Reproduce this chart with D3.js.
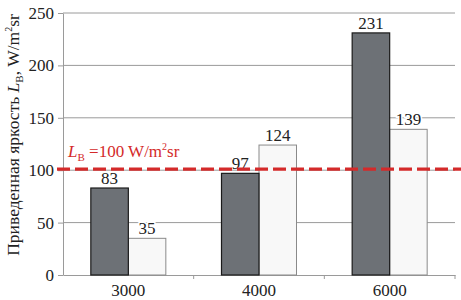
<!DOCTYPE html>
<html>
<head>
<meta charset="utf-8">
<script src="https://cdn.jsdelivr.net/npm/d3@7"></script>
<style>
  body { margin: 0; background: #fff; }
</style>
</head>
<body>
<div id="main"></div>
<script>
const categories = ["3000", "4000", "6000"];
const darkValues = [83, 97, 231];
const lightValues = [35, 124, 139];
const yTicks = [0, 50, 100, 150, 200, 250];
const thresholdValue = 100;

const width = 461, height = 300;
const padding = {top: 13, right: 6, bottom: 25, left: 63};
const serif = '"Liberation Serif", "Times New Roman", "DejaVu Serif", serif';

const svg = d3.select("#main").append("svg")
    .attr("width", width).attr("height", height)
    .attr("font-family", serif);

const x = d3.scaleBand().domain(categories)
    .range([padding.left, width - padding.right]);
const y = d3.scaleLinear().domain([0, 250])
    .range([height - padding.bottom, padding.top]);
const barW = 37.5;

// gridlines
svg.append("g").selectAll("line").data(yTicks.slice(1)).enter().append("line")
    .attr("x1", padding.left).attr("x2", width - padding.right)
    .attr("y1", d => y(d)).attr("y2", d => y(d))
    .attr("stroke", "#9a9a9a").attr("stroke-width", 1);

// y axis
const yAxis = d3.axisLeft(y).tickValues(yTicks).tickSize(5).tickSizeOuter(0);
const gy = svg.append("g")
    .attr("transform", "translate(" + padding.left + ",0)")
    .call(yAxis)
    .attr("font-family", serif);
gy.select(".domain").attr("stroke", "#9a9a9a");
gy.selectAll(".tick line").attr("stroke", "#9a9a9a");
gy.selectAll(".tick text").attr("font-size", 17).attr("fill", "#222").attr("x", -9);

// x axis
const xAxis = d3.axisBottom(x).tickSize(0).tickSizeOuter(0);
const gx = svg.append("g")
    .attr("transform", "translate(0," + (height - padding.bottom) + ")")
    .call(xAxis)
    .attr("font-family", serif);
gx.select(".domain").attr("stroke", "#9a9a9a");
gx.selectAll(".tick text").attr("font-size", 17).attr("fill", "#222").attr("dy", "1.05em");
// separators between categories
gx.append("g").selectAll("line").data(categories.slice(1)).enter().append("line")
    .attr("x1", d => x(d)).attr("x2", d => x(d))
    .attr("y1", 0).attr("y2", 4)
    .attr("stroke", "#9a9a9a");
gx.append("line").attr("x1", width - padding.right).attr("x2", width - padding.right)
    .attr("y1", 0).attr("y2", 4).attr("stroke", "#9a9a9a");

// bars
const bars = svg.append("g");
bars.selectAll("rect.light").data(lightValues).enter().append("rect")
    .attr("class", "light")
    .attr("x", (d, i) => x(categories[i]) + x.bandwidth() / 2)
    .attr("y", d => y(d))
    .attr("width", barW)
    .attr("height", d => y(0) - y(d))
    .attr("fill", "#f8f8f8").attr("stroke", "#8a8a8a").attr("stroke-width", 1);
bars.selectAll("rect.dark").data(darkValues).enter().append("rect")
    .attr("class", "dark")
    .attr("x", (d, i) => x(categories[i]) + x.bandwidth() / 2 - barW)
    .attr("y", d => y(d))
    .attr("width", barW)
    .attr("height", d => y(0) - y(d))
    .attr("fill", "#6d7176").attr("stroke", "#1a1a1a").attr("stroke-width", 1.2);

// value labels
const labels = svg.append("g").attr("font-size", 17).attr("fill", "#222")
    .attr("text-anchor", "middle");
labels.selectAll("text.dl").data(darkValues).enter().append("text")
    .attr("class", "dl")
    .attr("x", (d, i) => x(categories[i]) + x.bandwidth() / 2 - barW / 2)
    .attr("y", d => y(d) - 4)
    .text(d => d);
labels.selectAll("text.ll").data(lightValues).enter().append("text")
    .attr("class", "ll")
    .attr("x", (d, i) => x(categories[i]) + x.bandwidth() / 2 + barW / 2)
    .attr("y", d => y(d) - 4)
    .attr("stroke", "#fff").attr("stroke-width", 3).attr("paint-order", "stroke")
    .text(d => d);

// threshold line
svg.append("line")
    .attr("x1", padding.left - 6).attr("x2", width)
    .attr("y1", y(thresholdValue) - 1).attr("y2", y(thresholdValue) - 1)
    .attr("stroke", "#d42a2a").attr("stroke-width", 3.2)
    .attr("stroke-dasharray", "13,5");

const th = svg.append("text")
    .attr("x", 68).attr("y", y(thresholdValue) - 13)
    .attr("font-size", 17).attr("fill", "#d42a2a");
th.append("tspan").attr("font-style", "italic").text("L");
th.append("tspan").attr("font-size", 11).attr("dy", 4).text("B");
th.append("tspan").attr("dy", -4).text(" =100 W/m");
th.append("tspan").attr("font-size", 10).attr("dy", -7).text("2");
th.append("tspan").attr("dy", 7).text("sr");

// y title
const yt = svg.append("text")
    .attr("transform", "translate(19,135) rotate(-90)")
    .attr("text-anchor", "middle")
    .attr("font-size", 17.5).attr("fill", "#222");
yt.append("tspan").text("Приведенная яркость ");
yt.append("tspan").attr("font-style", "italic").text("L");
yt.append("tspan").attr("font-size", 11).attr("dy", 4).text("B");
yt.append("tspan").attr("dy", -4).text(", W/m");
yt.append("tspan").attr("font-size", 10).attr("dy", -7).text("2");
yt.append("tspan").attr("dy", 7).text("sr");
</script>
</body>
</html>
